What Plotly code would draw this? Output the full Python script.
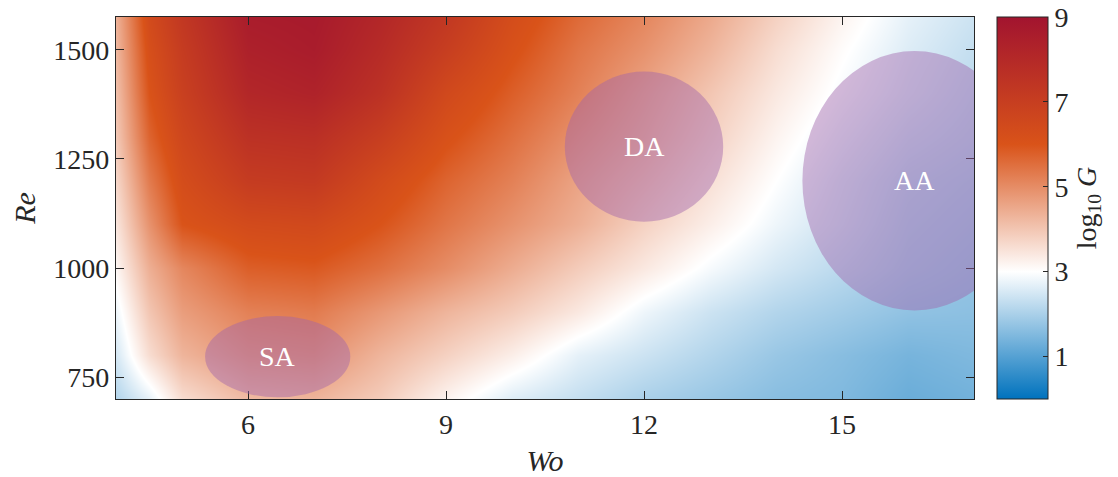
import plotly.graph_objects as go

# Womersley number (x) and Reynolds number (y) sample grid
wo = [4, 4.5, 5, 6, 7, 8, 9, 10, 11, 12, 13, 14, 15, 16, 17]
re = [700, 800, 900, 1000, 1100, 1200, 1300, 1400, 1500, 1575]

# log10 of the gain G on the (Re, Wo) grid, one row per Re value
log10_g = [
    [2.1, 2.7, 3.6, 4.2, 4.3, 3.9, 3.2, 2.6, 2.3, 2.0, 1.8, 1.6, 1.5, 1.25, 1.35],
    [2.5, 3.6, 4.3, 4.8, 4.9, 4.3, 3.8, 3.3, 2.7, 2.4, 2.1, 1.8, 1.6, 1.4, 1.5],
    [2.8, 4.0, 4.7, 5.2, 5.3, 4.8, 4.3, 3.9, 3.4, 2.8, 2.4, 2.1, 1.9, 1.7, 1.65],
    [3.15, 4.4, 5.1, 5.8, 5.9, 5.5, 5.0, 4.45, 3.9, 3.4, 2.9, 2.5, 2.2, 1.9, 1.75],
    [3.45, 4.9, 6.0, 6.4, 6.5, 6.0, 5.4, 4.9, 4.4, 3.8, 3.3, 2.8, 2.4, 2.0, 1.85],
    [3.7, 5.3, 6.3, 7.1, 7.2, 6.4, 5.7, 5.2, 4.6, 4.1, 3.55, 3.0, 2.5, 2.1, 1.95],
    [3.95, 5.7, 6.6, 7.6, 7.7, 7.0, 6.1, 5.5, 4.9, 4.4, 3.8, 3.2, 2.7, 2.3, 2.1],
    [4.1, 6.0, 6.9, 8.1, 8.3, 7.6, 6.5, 5.8, 5.2, 4.6, 4.0, 3.4, 2.9, 2.5, 2.2],
    [4.25, 6.2, 7.1, 8.4, 8.6, 7.9, 7.0, 6.1, 5.4, 4.9, 4.3, 3.6, 3.05, 2.6, 2.3],
    [4.35, 6.4, 7.3, 8.6, 8.7, 8.1, 7.3, 6.3, 5.6, 5.1, 4.5, 3.8, 3.2, 2.7, 2.4],
]

# Flow regimes drawn as ellipses: label, centre (Wo, Re), half-widths (Wo, Re)
regime_labels = ["SA", "DA", "AA"]
regime_wo = [6.45, 12.0, 16.1]
regime_re = [797, 1278, 1200]
regime_half_wo = [1.1, 1.2, 1.7]
regime_half_re = [93, 172, 297]

colorbar_ticks = [1, 3, 5, 7, 9]
x_ticks = [6, 9, 12, 15]
y_ticks = [750, 1000, 1250, 1500]

FONT = "Liberation Serif"
INK = "#262626"

colorscale = [
    [0.0, "#0072BD"],
    [1 / 3, "#FFFFFF"],
    [2 / 3, "#D95319"],
    [1.0, "#A2142F"],
]

fig = go.Figure()
fig.add_trace(
    go.Heatmap(
        x=wo,
        y=re,
        z=log10_g,
        zsmooth="best",
        zmin=0,
        zmax=9,
        colorscale=colorscale,
        colorbar=dict(
            x=1.0268,
            xanchor="left",
            xpad=0,
            y=0.5,
            yanchor="middle",
            len=1,
            ypad=0,
            thickness=51,
            outlinewidth=1,
            outlinecolor=INK,
            ticks="inside",
            ticklen=5,
            tickcolor=INK,
            tickvals=colorbar_ticks,
            tickfont=dict(family=FONT, size=28, color=INK),
            title=dict(
                text="log<sub>10</sub> <i>G</i>",
                side="right",
                font=dict(family=FONT, size=28, color=INK),
            ),
        ),
        hoverinfo="skip",
    )
)

for lab, cx, cy, ax, ay in zip(regime_labels, regime_wo, regime_re,
                               regime_half_wo, regime_half_re):
    fig.add_shape(
        type="circle",
        xref="x",
        yref="y",
        x0=cx - ax,
        x1=cx + ax,
        y0=cy - ay,
        y1=cy + ay,
        fillcolor="rgba(160,100,170,0.45)",
        line=dict(width=0),
        layer="above",
    )
    fig.add_annotation(
        x=cx,
        y=cy,
        xref="x",
        yref="y",
        text=lab,
        showarrow=False,
        font=dict(family=FONT, size=28, color="white"),
    )

axis_common = dict(
    showline=True,
    linecolor=INK,
    linewidth=1.2,
    mirror="allticks",
    ticks="inside",
    ticklen=8,
    tickcolor=INK,
    showgrid=False,
    zeroline=False,
    automargin=False,
    tickfont=dict(family=FONT, size=28, color=INK),
)

fig.update_layout(
    width=1118,
    height=477,
    margin=dict(l=116, r=144, t=17, b=78),
    paper_bgcolor="white",
    plot_bgcolor="white",
    xaxis=dict(
        range=[4, 17],
        tickvals=x_ticks,
        title=dict(text="<i>Wo</i>", font=dict(family=FONT, size=30, color=INK), standoff=11),
        **axis_common,
    ),
    yaxis=dict(
        range=[700, 1575],
        tickvals=y_ticks,
        title=dict(text="<i>Re</i>", font=dict(family=FONT, size=30, color=INK), standoff=8),
        **axis_common,
    ),
)

fig.write_html("out.html")
